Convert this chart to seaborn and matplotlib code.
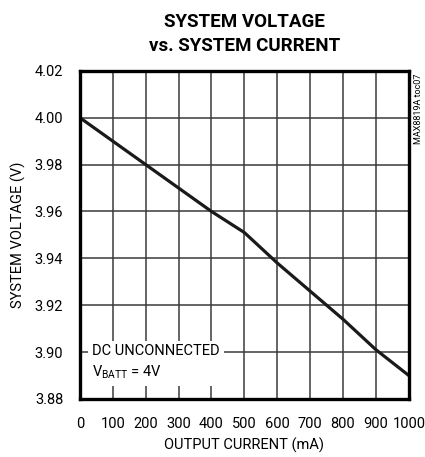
import numpy as np
import pandas as pd
import seaborn as sns
import matplotlib.pyplot as plt

# datos
corriente = [0, 100, 200, 300, 400, 500, 600, 700, 800, 900, 1000]
voltaje = [4.000, 3.990, 3.980, 3.970, 3.960, 3.951, 3.938, 3.926, 3.914, 3.901, 3.890]
xticks = [0, 100, 200, 300, 400, 500, 600, 700, 800, 900, 1000]
yticks = [3.88, 3.90, 3.92, 3.94, 3.96, 3.98, 4.00, 4.02]

df = pd.DataFrame({"corriente": corriente, "voltaje": voltaje})

sns.set_style("white")
plt.rcParams['font.family'] = ['Roboto', 'DejaVu Sans']
plt.rcParams['text.color'] = "black"

fig = plt.figure(figsize=(4.25, 4.57), dpi=100)
ax = fig.add_axes([0.188, 0.127, 0.774, 0.718])

sns.lineplot(data=df, x="corriente", y="voltaje", color="#1a1a1a", linewidth=2.3, ax=ax)

ax.set_xlim(0, 1000)
ax.set_ylim(3.88, 4.02)
ax.set_xticks(xticks)
ax.set_yticks(yticks)
ax.set_xticklabels([str(t) for t in xticks], fontsize=10.5, color="black")
ax.set_yticklabels([f"{t:.2f}" for t in yticks], fontsize=10.5, color="black")
ax.grid(True, color="#3a3a3a", linewidth=1.1)
ax.tick_params(axis="x", length=0, pad=13)
ax.tick_params(axis="y", length=0, pad=12)
for s in ax.spines.values():
    s.set_linewidth(2.4)
    s.set_color("black")

ax.set_xlabel("OUTPUT CURRENT (mA)", fontsize=10.5, labelpad=5, color="black")
ax.set_ylabel("SYSTEM VOLTAGE (V)", fontsize=10.5, labelpad=6, color="black")
ax.set_title("SYSTEM VOLTAGE\nvs. SYSTEM CURRENT", fontsize=13.5, fontweight="bold", pad=14,
             linespacing=1.45, color="black")

ax.text(36, 3.9034, "DC UNCONNECTED\n$\\mathregular{V_{BATT}}$ = 4V", fontsize=10.5,
        ha="left", va="top", linespacing=1.45,
        bbox=dict(facecolor="white", edgecolor="none", pad=3))
ax.text(1.03, 0.99, "MAX8819A toc07", transform=ax.transAxes, rotation=90,
        fontsize=6.5, ha="center", va="top")

fig.savefig("out.png", dpi=100)
